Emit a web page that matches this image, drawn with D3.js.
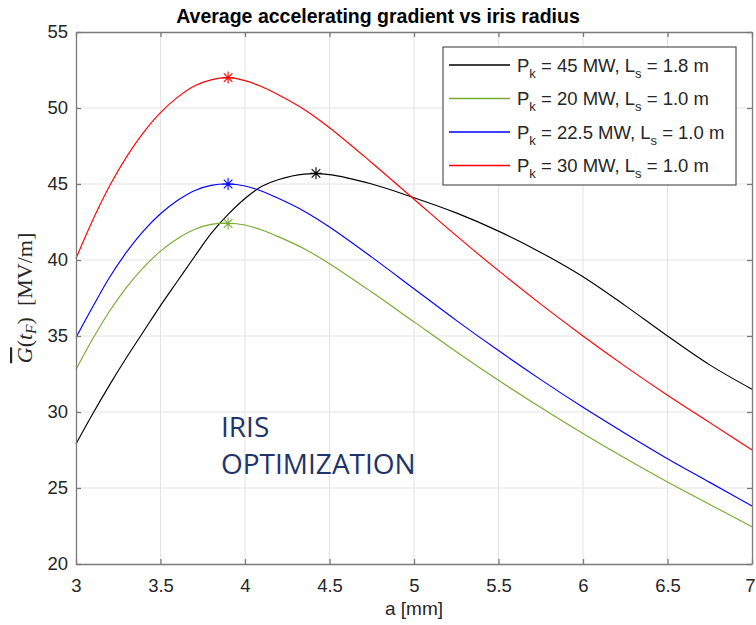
<!DOCTYPE html>
<html>
<head>
<meta charset="utf-8">
<script src="https://cdn.jsdelivr.net/npm/d3@7"></script>
<style>
  html, body { margin: 0; padding: 0; background: #fff; }
  svg { display: block; }
</style>
</head>
<body>
<svg id="chart" width="756" height="625"></svg>
<script>
// ---- data ----
const chartTitle = "Average accelerating gradient vs iris radius";
const xTicks = [3, 3.5, 4, 4.5, 5, 5.5, 6, 6.5, 7];
const yTicks = [20, 25, 30, 35, 40, 45, 50, 55];
const irisRadius = [3.0,3.1,3.2,3.3,3.4,3.5,3.6,3.7,3.8,3.9,4.0,4.1,4.2,4.35,4.5,4.75,5.0,5.25,5.5,5.75,6.0,6.25,6.5,6.75,7.0];
const gradP45L18 = [27.9,29.9,31.8,33.6,35.3,37.0,38.6,40.2,41.75,43.0,44.05,44.85,45.3,45.65,45.62,45.0,44.1,43.1,41.9,40.5,38.9,37.0,35.0,33.1,31.5];
const gradP20L10 = [32.8,34.83,36.66,38.21,39.52,40.58,41.40,42.01,42.34,42.42,42.3,41.97,41.52,40.74,39.76,37.89,35.93,33.97,32.09,30.29,28.58,26.95,25.39,23.92,22.45];
const gradP225L10 = [34.9,36.94,38.88,40.53,41.92,43.04,43.91,44.56,44.91,45.0,44.87,44.52,44.04,43.21,42.17,40.19,38.11,36.03,34.04,32.13,30.31,28.59,26.93,25.37,23.81];
const gradP30L10 = [40.1,42.65,44.9,46.8,48.4,49.7,50.7,51.45,51.85,52.0,51.8,51.4,50.85,49.9,48.7,46.4,44.0,41.6,39.3,37.1,35.0,33.0,31.1,29.3,27.5];
const seriesPk = ["45", "20", "22.5", "30"];
const seriesLs = ["1.8", "1.0", "1.0", "1.0"];
const seriesColors = ["#000000", "#77ac30", "#0000ff", "#ff0000"];
const peakA = [4.42, 3.9, 3.9, 3.9];
const peakG = [45.7, 42.4, 45.0, 52.0];

const seriesValues = [gradP45L18, gradP20L10, gradP225L10, gradP30L10];

// ---- layout ----
const svg = d3.select("#chart");
const L = 76, R = 752, T = 32, B = 564;
const x = d3.scaleLinear().domain([3, 7]).range([L, R]);
const y = d3.scaleLinear().domain([20, 55]).range([B, T]);
const axisColor = "#7a7a7a";
const textColor = "#262626";
const font = "'Liberation Sans', Arial, Helvetica, sans-serif";

// grid
const grid = svg.append("g").attr("stroke", "#e3e3e3").attr("stroke-width", 1);
grid.selectAll(".gx").data(xTicks.slice(1, -1)).join("line")
  .attr("x1", d => x(d)).attr("x2", d => x(d)).attr("y1", T).attr("y2", B);
grid.selectAll(".gy").data(yTicks.slice(1, -1)).join("line")
  .attr("y1", d => y(d)).attr("y2", d => y(d)).attr("x1", L).attr("x2", R);

// title
svg.append("text").attr("x", 378).attr("y", 23)
  .attr("text-anchor", "middle").attr("font-family", font)
  .attr("font-weight", "bold").attr("font-size", 19.5).attr("fill", "#000")
  .text(chartTitle);

// IRIS OPTIMIZATION annotation
const ann = svg.append("text").attr("font-family", "'Open Sans', sans-serif")
  .attr("font-size", 28).attr("fill", "#1f3468");
ann.append("tspan").attr("x", 221).attr("y", 437).text("IRIS");
ann.append("tspan").attr("x", 221).attr("y", 474).text("OPTIMIZATION");

// curves
const curveGen = d3.line().x((d, i) => x(irisRadius[i])).y(d => y(d)).curve(d3.curveCatmullRom.alpha(0.5));
svg.append("g").selectAll("path").data(seriesValues).join("path")
  .attr("d", d => curveGen(d)).attr("fill", "none")
  .attr("stroke", (d, i) => seriesColors[i]).attr("stroke-width", 1.15);

// peak asterisks
const starPath = (cx, cy) => {
  const r = 6, q = 4.3;
  return `M${cx - r},${cy}L${cx + r},${cy}M${cx},${cy - r}L${cx},${cy + r}` +
         `M${cx - q},${cy - q}L${cx + q},${cy + q}M${cx - q},${cy + q}L${cx + q},${cy - q}`;
};
svg.append("g").selectAll("path").data(peakA).join("path")
  .attr("d", (d, i) => starPath(x(d), y(peakG[i])))
  .attr("stroke", (d, i) => seriesColors[i]).attr("stroke-width", 1.1).attr("fill", "none");

// axes (MATLAB style box, inward ticks)
const styleAxis = g => {
  g.select(".domain").attr("stroke", axisColor).attr("stroke-width", 1.3);
  g.selectAll(".tick line").attr("stroke", axisColor).attr("stroke-width", 1.3);
  g.selectAll(".tick text").attr("fill", textColor).attr("font-family", font).attr("font-size", 18.5);
};
const fmt = d3.format("~g");
const xAxisG = svg.append("g").attr("transform", `translate(0,${B})`)
  .call(d3.axisBottom(x).tickValues(xTicks).tickFormat(fmt).tickSizeInner(-5).tickSizeOuter(0).tickPadding(15))
  .call(styleAxis);
xAxisG.selectAll(".tick text").filter(d => d === 7).attr("dx", -2);
svg.append("g").attr("transform", `translate(0,${T})`)
  .call(d3.axisTop(x).tickValues(xTicks).tickFormat("").tickSizeInner(-5).tickSizeOuter(0))
  .call(styleAxis);
svg.append("g").attr("transform", `translate(${L},0)`)
  .call(d3.axisLeft(y).tickValues(yTicks).tickFormat(fmt).tickSizeInner(-5).tickSizeOuter(0).tickPadding(8))
  .call(styleAxis);
svg.append("g").attr("transform", `translate(${R},0)`)
  .call(d3.axisRight(y).tickValues(yTicks).tickFormat("").tickSizeInner(-5).tickSizeOuter(0))
  .call(styleAxis);

// x label
svg.append("text").attr("x", (L + R) / 2).attr("y", 615).attr("text-anchor", "middle")
  .attr("font-family", font).attr("font-size", 19).attr("fill", textColor).text("a [mm]");

// y label (LaTeX-like)
const yl = svg.append("text").attr("transform", `translate(32,${(T + B) / 2}) rotate(-90)`)
  .attr("text-anchor", "middle").attr("font-family", "'Liberation Serif', 'Times New Roman', serif")
  .attr("font-size", 22).attr("fill", textColor);
yl.append("tspan").attr("font-style", "italic").style("text-decoration", "overline").text("G");
yl.append("tspan").text("(");
yl.append("tspan").attr("font-style", "italic").text("t");
yl.append("tspan").attr("font-style", "italic").attr("font-size", 15.5).attr("dy", 4).text("F");
yl.append("tspan").attr("dy", -4).text(")");
yl.append("tspan").text("\u2002[MV/m]");

// legend
const leg = svg.append("g");
leg.append("rect").attr("x", 443).attr("y", 47).attr("width", 293).attr("height", 138)
  .attr("fill", "#fff").attr("stroke", "#555").attr("stroke-width", 1.2);
const rowY = i => 65 + i * 33.5;
seriesColors.forEach((c, i) => {
  leg.append("line").attr("x1", 449).attr("x2", 510).attr("y1", rowY(i)).attr("y2", rowY(i))
    .style("stroke", c).style("stroke-width", 1.3);
  const t = leg.append("text").attr("x", 517).attr("y", rowY(i) + 6.5)
    .attr("font-family", font).attr("font-size", 18.5).attr("fill", textColor);
  t.append("tspan").text("P");
  t.append("tspan").attr("font-size", 13).attr("dy", 6).text("k");
  t.append("tspan").attr("dy", -6).text(` = ${seriesPk[i]} MW, L`);
  t.append("tspan").attr("font-size", 13).attr("dy", 6).text("s");
  t.append("tspan").attr("dy", -6).text(` = ${seriesLs[i]} m`);
});
</script>
</body>
</html>
